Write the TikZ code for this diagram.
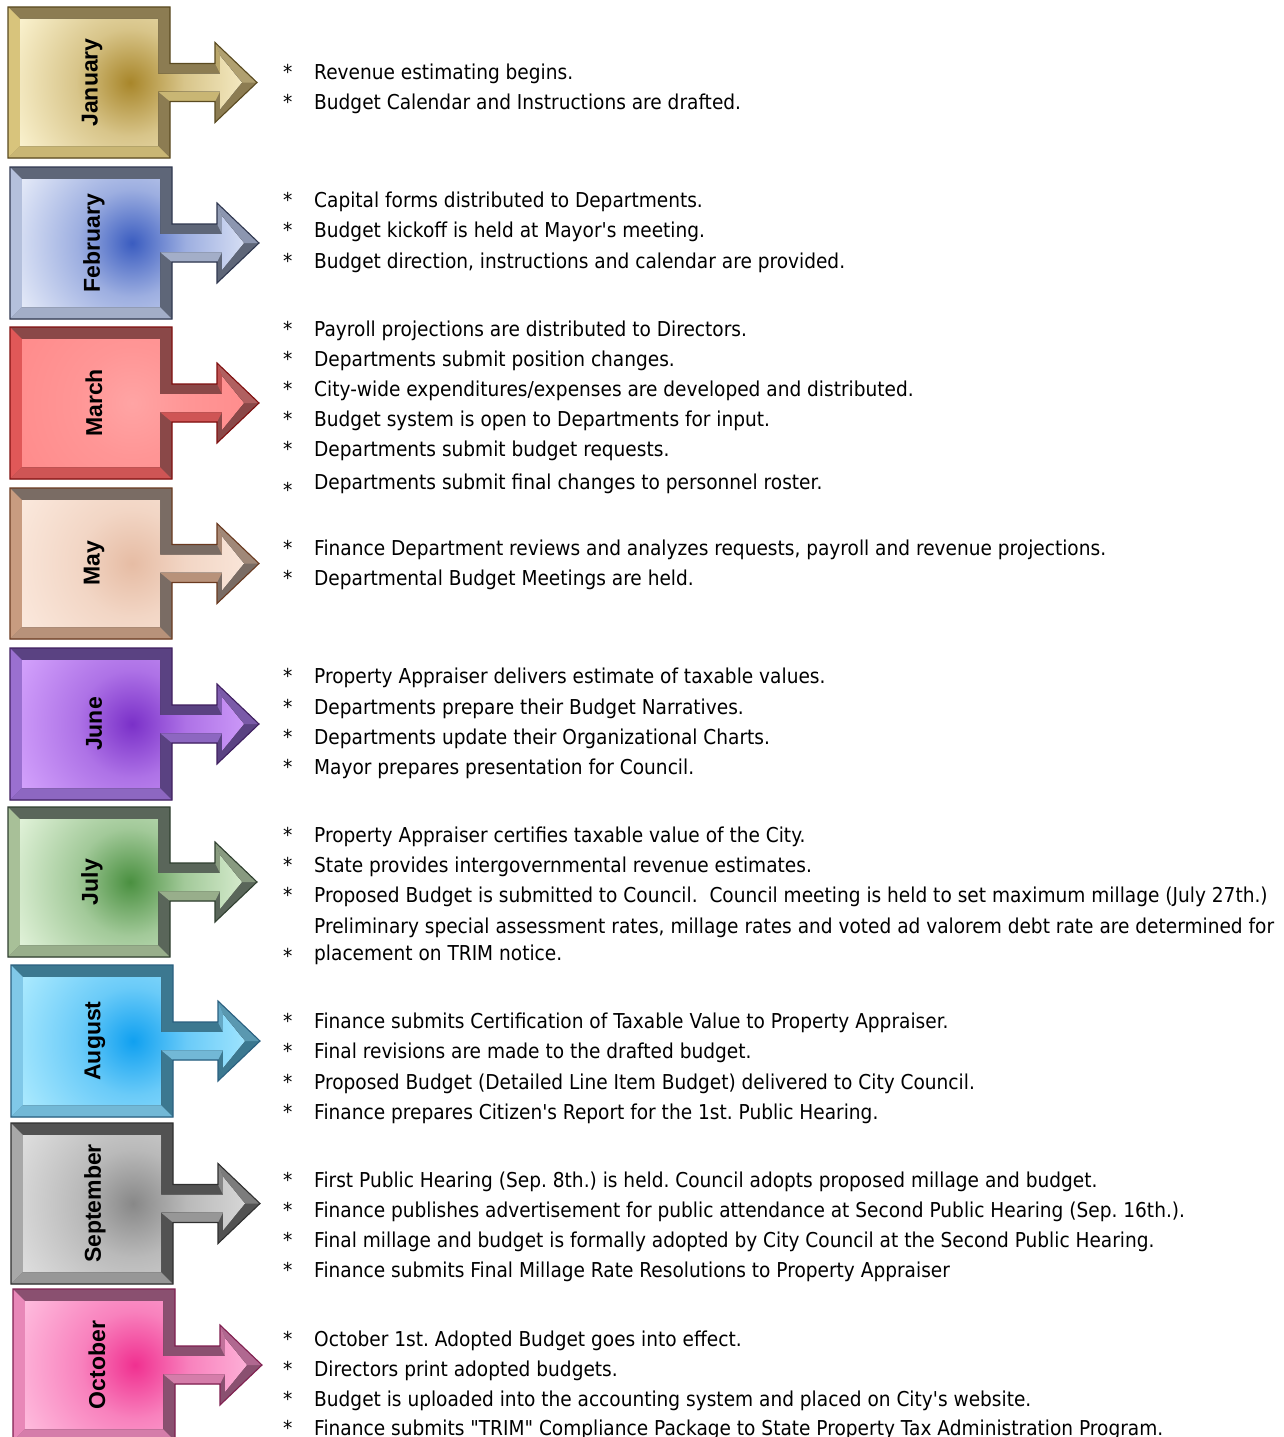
\documentclass[tikz,border=0pt]{standalone}
\usepackage{fontspec}
\setmainfont{DejaVu Sans}
\newfontfamily\txtfont[FakeStretch=0.905]{DejaVu Sans}
\newfontfamily\lblfont{Liberation Sans}

% id, center, ring, edge, frame dark, frame light, outline, mid
\newcommand\defmonth[8]{%
 \definecolor{#1C}{HTML}{#2}\definecolor{#1R}{HTML}{#3}\definecolor{#1E}{HTML}{#4}%
 \definecolor{#1D}{HTML}{#5}\definecolor{#1L}{HTML}{#6}\definecolor{#1O}{HTML}{#7}\definecolor{#1M}{HTML}{#8}%
 \colorlet{#1CR}{#1C!45!#1R}\colorlet{#1RE}{#1R!55!#1E}%
 \pgfdeclareradialshading{sh#1}{\pgfpointorigin}{color(0bp)=(#1C); color(9bp)=(#1CR); color(23bp)=(#1R); color(33bp)=(#1RE); color(50bp)=(#1E)}}

\defmonth{jan}{A8862A}{FFF8D8}{E8D28C}{8C7C52}{D8C47C}{5A4A20}{B0A070}
\defmonth{feb}{3A5CC0}{EEF2FB}{C6D0EA}{5E6678}{B4C0DC}{303850}{8C96B0}
\defmonth{mar}{FFA4A4}{FF8A8A}{E83030}{8A4848}{E05858}{801010}{B06060}
\defmonth{may}{E6BCA4}{FCEBE0}{EAC6B0}{7A6C64}{C89C80}{6A3A20}{A08878}
\defmonth{jun}{7A30C8}{D8A8FF}{A468E4}{5A4282}{9A70D0}{402060}{7A5AA8}
\defmonth{jul}{4A9040}{EAF8E2}{BED6AE}{5A665A}{A8C098}{304030}{889A80}
\defmonth{aug}{10A0F0}{B4EEFF}{62CCF2}{3C7890}{80C8E8}{2A6080}{5A98B0}
\defmonth{sep}{888888}{E2E2E2}{BEBEBE}{525252}{A8A8A8}{303030}{7C7C7C}
\defmonth{oct}{F03090}{FFC4E2}{F890C8}{8A5070}{E888B8}{802050}{B06890}

\tikzset{
  monthlabel/.style={rotate=90, font=\lblfont\bfseries\fontsize{23}{23}\selectfont, text=black},
  itemtext/.style={anchor=base west, inner sep=0pt, font=\txtfont\fontsize{20.5}{20.5}\selectfont, text=black},
}

\newcounter{ln}
% id, top, left, height, label
\newcommand\monthblock[5]{%
\begin{scope}[shift={(#3,#2)}]
 \pgfmathsetmacro\cy{#4/2}
 \pgfmathsetmacro\hh{#4}
 \pgfmathsetmacro\hb{#4-12}
 \fill[#1D] (0,0) -- (162,0) -- (162,\cy-19) -- (207,\cy-19) -- (207,\cy-40) -- (249,\cy) -- (207,\cy+40) -- (207,\cy+19) -- (162,\cy+19) -- (162,\hh) -- (0,\hh) -- cycle;
 % light facets
 \fill[#1L] (0,0) -- (12,12) -- (12,\hb) -- (0,\hh) -- cycle;
 \fill[#1L!80!#1D] (0,\hh) -- (12,\hb) -- (150,\hb) -- (162,\hh) -- cycle;
 \fill[#1L!80!#1D] (150,\cy+9) -- (212,\cy+9) -- (207,\cy+19) -- (162,\cy+19) -- cycle;
 \fill[#1M] (207,\cy-40) -- (249,\cy) -- (234,\cy) -- (212,\cy-27) -- cycle;
 \fill[#1L!60!#1D] (212,\cy-27) -- (212,\cy-9) -- (207,\cy-19) -- (207,\cy-40) -- cycle;
 \begin{scope}
  \clip (12,12) -- (150,12) -- (150,\cy-9) -- (212,\cy-9) -- (212,\cy-27) -- (234,\cy) -- (212,\cy+27) -- (212,\cy+9) -- (150,\cy+9) -- (150,\hb) -- (12,\hb) -- cycle;
  \fill[shading=sh#1] (122,\cy) circle (150);
 \end{scope}
 \draw[#1O, line width=1.1pt, line join=miter] (0,0) -- (162,0) -- (162,\cy-19) -- (207,\cy-19) -- (207,\cy-40) -- (249,\cy) -- (207,\cy+40) -- (207,\cy+19) -- (162,\cy+19) -- (162,\hh) -- (0,\hh) -- cycle;
 \node[monthlabel] (lbl#1) at (84,\cy) {#5};
\end{scope}}

% y, text  (normal item)
\newcommand\itm[2]{\stepcounter{ln}%
 \node[itemtext] (s\theln) at (283,#1+2) {*};
 \node[itemtext] (t\theln) at (314,#1+2) {#2};}
% y, star offset, text
\newcommand\itmoff[3]{\stepcounter{ln}%
 \node[itemtext] (s\theln) at (283,#1+#2+2) {*};
 \node[itemtext] (t\theln) at (314,#1+2) {#3};}
% y, text (no star)
\newcommand\itmns[2]{\stepcounter{ln}%
 \node[itemtext] (t\theln) at (314,#1+2) {#2};}

\begin{document}
\frenchspacing
\begin{tikzpicture}[x=1pt,y=-1pt]
\useasboundingbox (0,0) rectangle (1283,1437);
\fill[white] (0,0) rectangle (1283,1437);

\monthblock{jan}{7}{8}{151}{January}
\monthblock{feb}{167}{10}{152}{February}
\monthblock{mar}{327}{10}{152}{March}
\monthblock{may}{488}{10}{151}{May}
\monthblock{jun}{648}{10}{152}{June}
\monthblock{jul}{807}{8}{150}{July}
\monthblock{aug}{965}{11}{152}{August}
\monthblock{sep}{1123}{11}{161}{September}
\monthblock{oct}{1289}{13}{152}{October}

\itm{77}{Revenue estimating begins.}
\itm{107}{Budget Calendar and Instructions are drafted.}

\itm{205}{Capital forms distributed to Departments.}
\itm{235}{Budget kickoff is held at Mayor's meeting.}
\itm{266}{Budget direction, instructions and calendar are provided.}

\itm{334}{Payroll projections are distributed to Directors.}
\itm{364}{Departments submit position changes.}
\itm{394}{City-wide expenditures/expenses are developed and distributed.}
\itm{424}{Budget system is open to Departments for input.}
\itm{454}{Departments submit budget requests.}
\itmoff{487}{8}{Departments submit final changes to personnel roster.}

\itm{553}{Finance Department reviews and analyzes requests, payroll and revenue projections.}
\itm{583}{Departmental Budget Meetings are held.}

\itm{681}{Property Appraiser delivers estimate of taxable values.}
\itm{712}{Departments prepare their Budget Narratives.}
\itm{742}{Departments update their Organizational Charts.}
\itm{772}{Mayor prepares presentation for Council.}

\itm{840}{Property Appraiser certifies taxable value of the City.}
\itm{870}{State provides intergovernmental revenue estimates.}
\itm{900}{Proposed Budget is submitted to Council.\ \ Council meeting is held to set maximum millage (July 27th.)}
\itmns{931}{Preliminary special assessment rates, millage rates and voted ad valorem debt rate are determined for}
\itmoff{958}{3}{placement on TRIM notice.}

\itm{1026}{Finance submits Certification of Taxable Value to Property Appraiser.}
\itm{1056}{Final revisions are made to the drafted budget.}
\itm{1087}{Proposed Budget (Detailed Line Item Budget) delivered to City Council.}
\itm{1117}{Finance prepares Citizen's Report for the 1st. Public Hearing.}

\itm{1185}{First Public Hearing (Sep. 8th.) is held. Council adopts proposed millage and budget.}
\itm{1215}{Finance publishes advertisement for public attendance at Second Public Hearing (Sep. 16th.).}
\itm{1245}{Final millage and budget is formally adopted by City Council at the Second Public Hearing.}
\itm{1275}{Finance submits Final Millage Rate Resolutions to Property Appraiser}

\itm{1344}{October 1st. Adopted Budget goes into effect.}
\itm{1374}{Directors print adopted budgets.}
\itm{1404}{Budget is uploaded into the accounting system and placed on City's website.}
\itm{1433}{Finance submits "TRIM" Compliance Package to State Property Tax Administration Program.}
\end{tikzpicture}
\end{document}
